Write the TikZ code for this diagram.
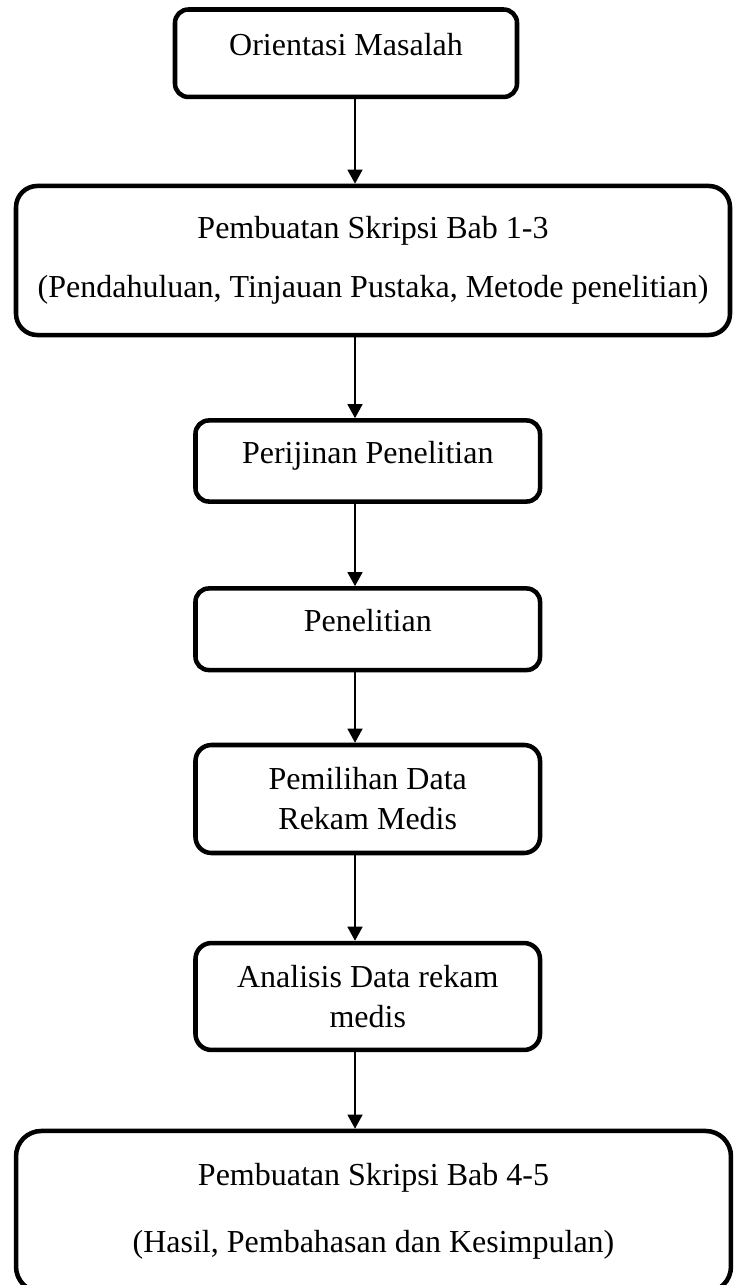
\documentclass[tikz,border=0pt]{standalone}
\usepackage{fontspec}
\setmainfont{Liberation Serif}
\usetikzlibrary{arrows.meta}

\begin{document}
\begin{tikzpicture}[x=0.375pt,y=-0.375pt,
  stage/.style={draw,line width=1.7pt,rounded corners=5pt,align=center,inner sep=0pt,
    font=\fontsize{12pt}{15pt}\selectfont},
  oneline/.style={text height=8pt,text depth=6pt},
  flow/.style={-{Triangle[width=5.6pt,length=5.3pt]},line width=0.75pt}]
\useasboundingbox (0,0) rectangle (734,1285);
\clip (0,0) rectangle (734,1285);
\coordinate (spine) at (355,0);
\node[stage,oneline,minimum width=128.25pt,minimum height=32.8pt] (orientasi) at (346,53.25) {Orientasi Masalah};
\node[stage,rounded corners=8pt,minimum width=267.75pt,minimum height=55.9pt] (babSatu) at (373,260.5) {Pembuatan Skripsi Bab 1-3\\[7pt](Pendahuluan, Tinjauan Pustaka, Metode penelitian)};
\node[stage,oneline,minimum width=129.2pt,minimum height=30.4pt] (perijinan) at (367.75,461) {Perijinan Penelitian};
\node[stage,oneline,minimum width=129.2pt,minimum height=30.6pt] (penelitian) at (367.75,629.25) {Penelitian};
\node[stage,rounded corners=6pt,minimum width=129.2pt,minimum height=40.5pt] (pemilihan) at (367.75,799) {Pemilihan Data\\Rekam Medis};
\node[stage,rounded corners=6pt,minimum width=129.2pt,minimum height=40.1pt] (analisis) at (367.75,996.5) {Analisis Data rekam\\medis};
\node[stage,rounded corners=9.5pt,minimum width=268.1pt,minimum height=60.4pt] (babEmpat) at (373.5,1211.5) {Pembuatan Skripsi Bab 4-5\\[10pt](Hasil, Pembahasan dan Kesimpulan)};
\draw[flow] (orientasi.south -| spine) -- (babSatu.north -| spine);
\draw[flow] (babSatu.south -| spine) -- (perijinan.north -| spine);
\draw[flow] (perijinan.south -| spine) -- (penelitian.north -| spine);
\draw[flow] (penelitian.south -| spine) -- (pemilihan.north -| spine);
\draw[flow] (pemilihan.south -| spine) -- (analisis.north -| spine);
\draw[flow] (analisis.south -| spine) -- (babEmpat.north -| spine);
\end{tikzpicture}
\end{document}
